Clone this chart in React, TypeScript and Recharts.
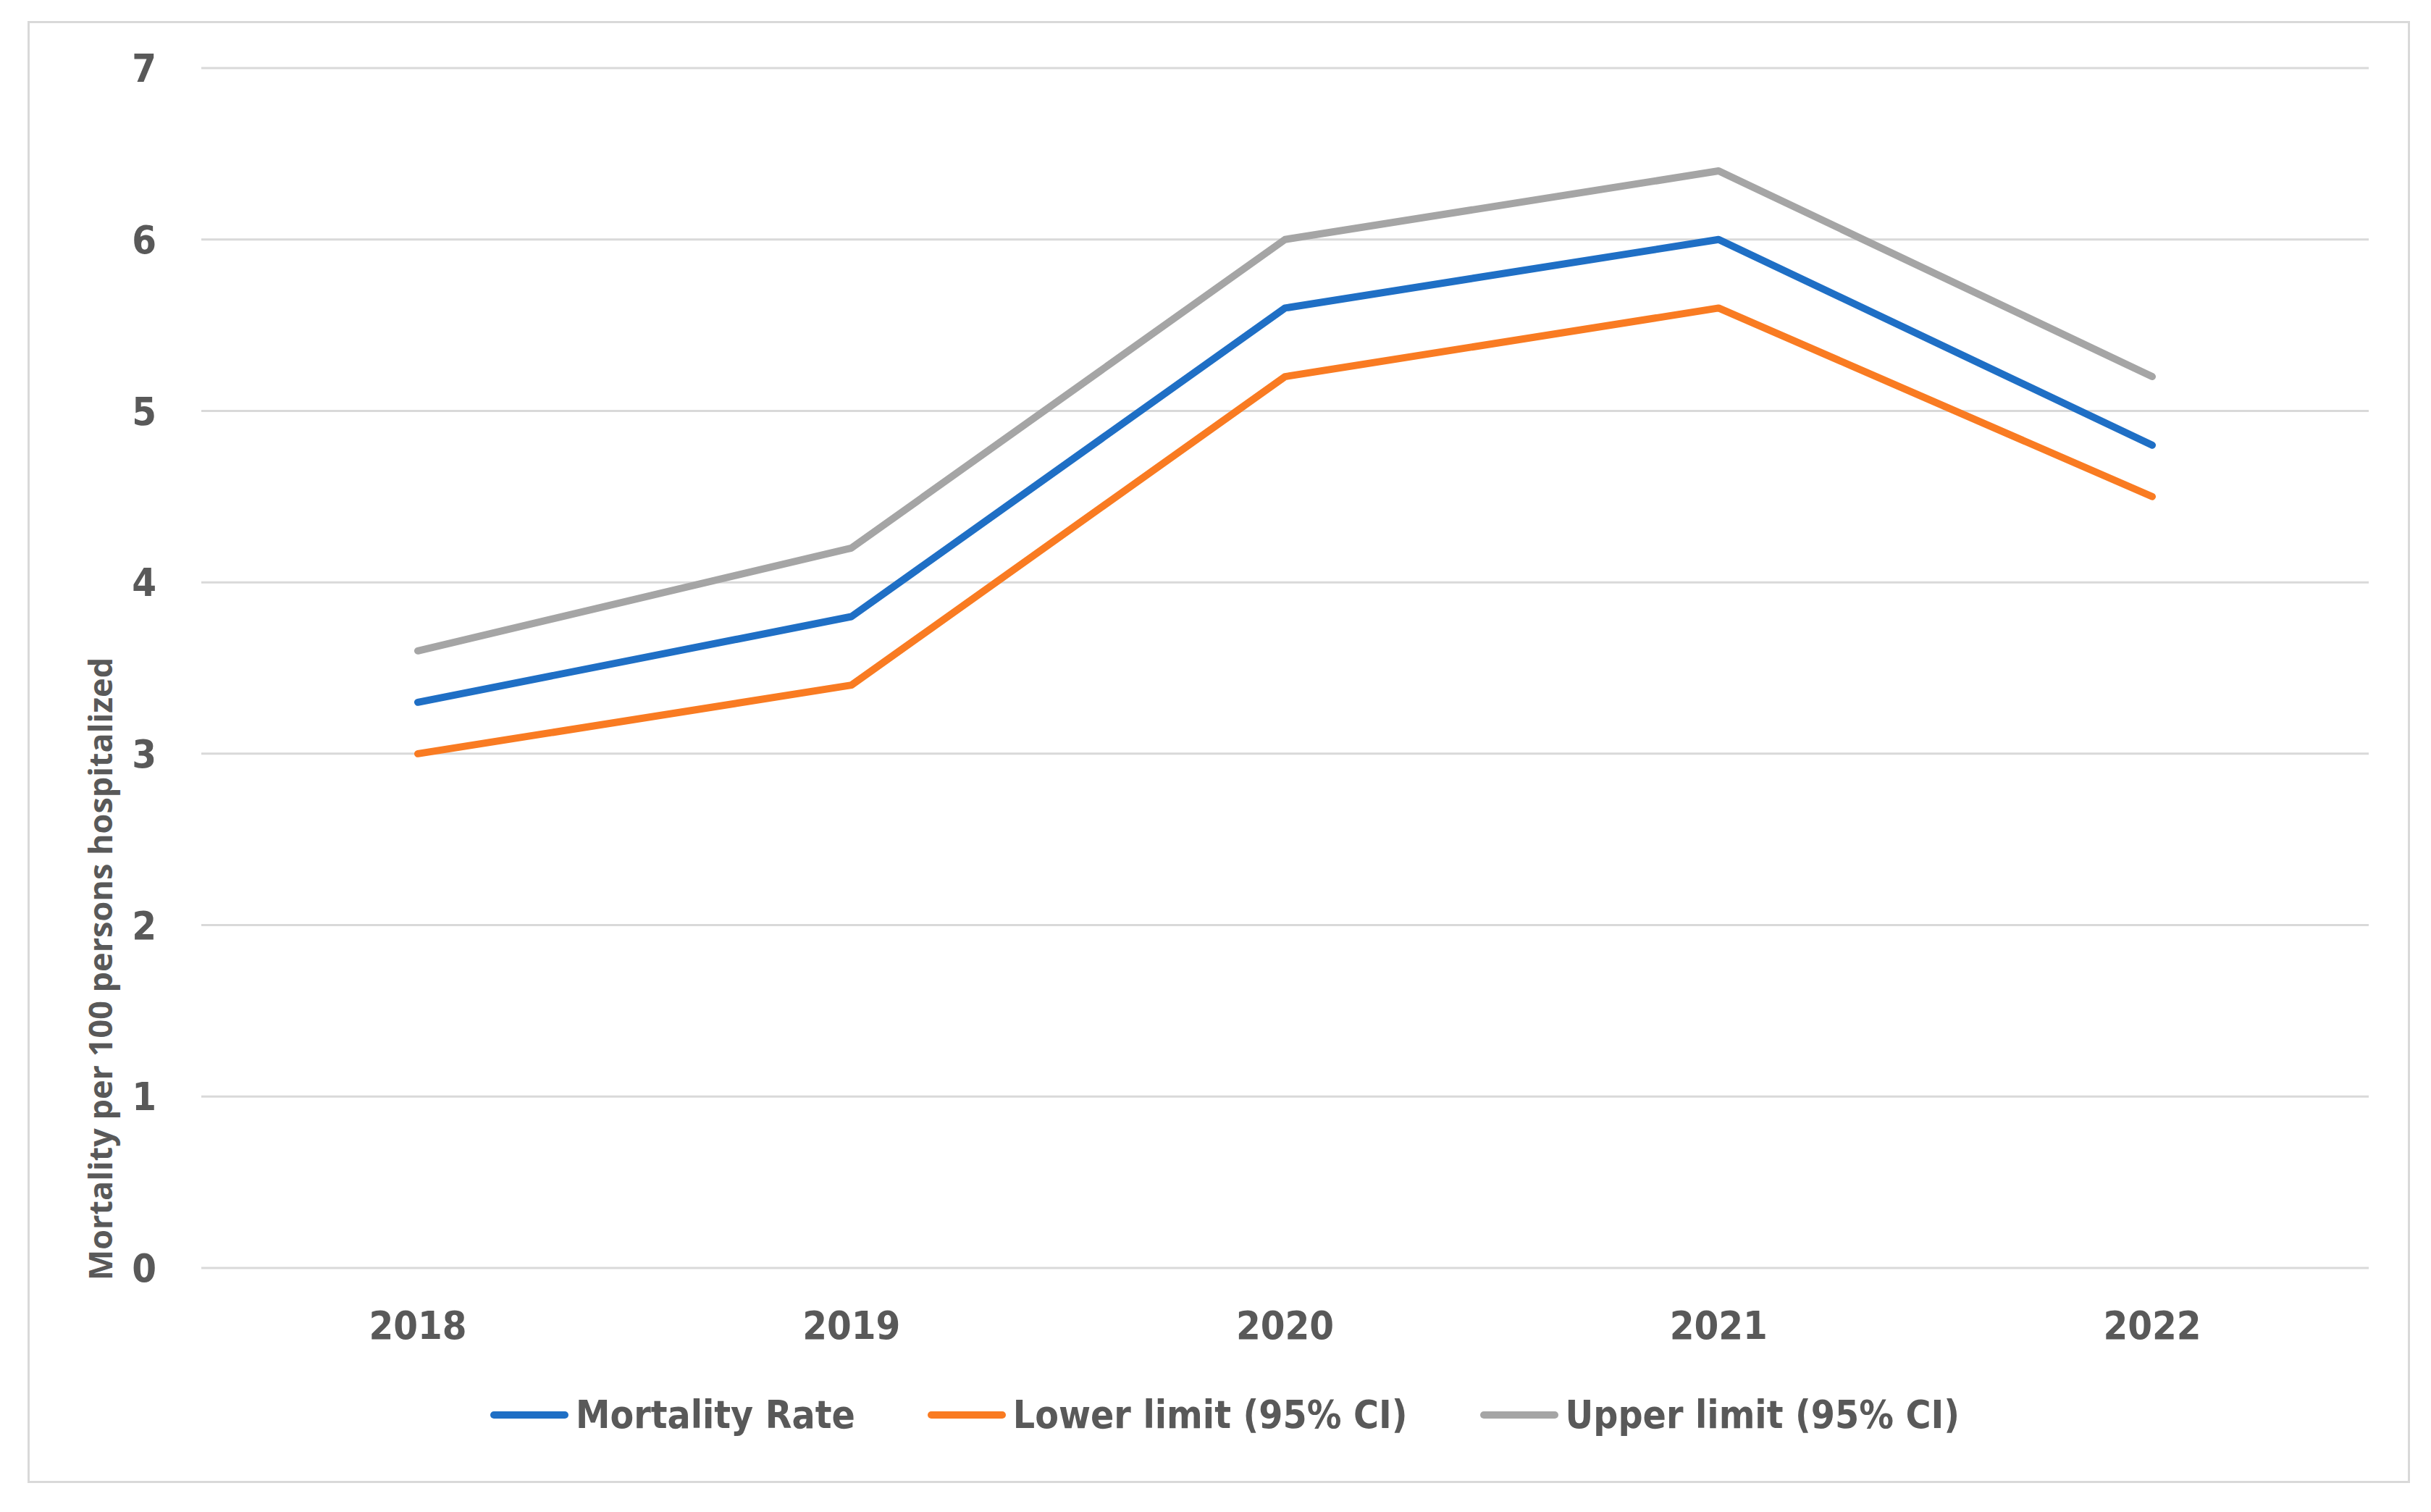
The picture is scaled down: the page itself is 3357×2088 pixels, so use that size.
import { LineChart, Line, XAxis, YAxis, CartesianGrid, Legend, Label } from "recharts";

// values
const years = ["2018", "2019", "2020", "2021", "2022"];
const mortalityRate = [3.3, 3.8, 5.6, 6.0, 4.8];
const lowerLimit = [3.0, 3.4, 5.2, 5.6, 4.5];
const upperLimit = [3.6, 4.2, 6.0, 6.4, 5.2];
const yTicks = [0, 1, 2, 3, 4, 5, 6, 7];

const SERIES = [
  { key: "mortality", name: "Mortality Rate", color: "#1f6fc5" },
  { key: "lower", name: "Lower limit (95% CI)", color: "#f97b22" },
  { key: "upper", name: "Upper limit (95% CI)", color: "#a5a5a5" },
];

const FONT = "'Liberation Sans Narrow', 'DejaVu Sans Condensed', sans-serif";
const TEXT = "#595959";

const chartData = years.map((year, i) => ({
  year,
  mortality: mortalityRate[i],
  lower: lowerLimit[i],
  upper: upperLimit[i],
}));

function LegendContent() {
  return (
    <div
      style={{
        display: "flex",
        justifyContent: "center",
        alignItems: "center",
        gap: 100,
        marginLeft: -66,
        paddingTop: 8,
        fontFamily: FONT,
        fontSize: 53,
        fontWeight: 600,
        color: TEXT,
      }}
    >
      {SERIES.map((s) => (
        <div key={s.key} style={{ display: "flex", alignItems: "center" }}>
          <div
            style={{
              width: 108,
              height: 10,
              borderRadius: 5,
              background: s.color,
              marginRight: 10,
            }}
          />
          <span>{s.name}</span>
        </div>
      ))}
    </div>
  );
}

export default function App() {
  return (
    <div style={{ position: "absolute", left: 0, top: 0, width: 3357, height: 2088, background: "#fff" }}>
      <div
        style={{
          position: "absolute",
          left: 38,
          top: 29,
          width: 3284,
          height: 2013,
          border: "3px solid #d9d9d9",
        }}
      />
      <div style={{ position: "absolute", left: 0, top: 0 }}>
        <LineChart
          width={3357}
          height={2088}
          data={chartData}
          margin={{ top: 94, right: 86, bottom: 93, left: 178 }}
        >
          <CartesianGrid vertical={false} stroke="#d9d9d9" strokeWidth={3} />
          <XAxis
            dataKey="year"
            height={164}
            padding={{ left: 299, right: 299 }}
            axisLine={false}
            tickLine={false}
            tickSize={0}
            tickMargin={60}
            tick={{ fill: TEXT, fontSize: 54, fontFamily: FONT, fontWeight: 600 }}
          />
          <YAxis
            width={100}
            domain={[0, 7]}
            ticks={yTicks}
            interval={0}
            axisLine={false}
            tickLine={false}
            tickSize={0}
            tickMargin={62}
            tick={{ fill: TEXT, fontSize: 54, fontFamily: FONT, fontWeight: 600 }}
          >
            <Label
              content={({ viewBox }: any) => {
                const cx = viewBox.x - 41;
                const cy = 1338;
                return (
                  <text
                    x={cx}
                    y={cy}
                    transform={`rotate(-90 ${cx} ${cy})`}
                    textAnchor="middle"
                    dominantBaseline="central"
                    fill={TEXT}
                    fontFamily="'Open Sans', sans-serif"
                    fontWeight={700}
                    fontSize={45}
                  >
                    Mortality per 100 persons hospitalized
                  </text>
                );
              }}
            />
          </YAxis>
          <Legend verticalAlign="bottom" height={80} content={<LegendContent />} />
          {SERIES.map((s) => (
            <Line
              key={s.key}
              type="linear"
              dataKey={s.key}
              name={s.name}
              stroke={s.color}
              strokeWidth={10}
              strokeLinecap="round"
              strokeLinejoin="round"
              dot={false}
              activeDot={false}
              isAnimationActive={false}
            />
          ))}
        </LineChart>
      </div>
    </div>
  );
}
